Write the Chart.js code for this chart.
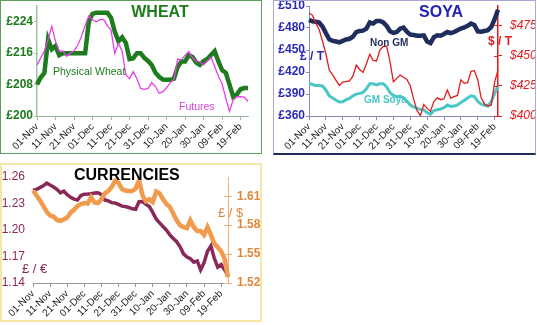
<!DOCTYPE html>
<html>
<head>
<meta charset="utf-8">
<script src="https://cdn.jsdelivr.net/npm/chart.js@4.4.1/dist/chart.umd.min.js"></script>
<style>
    body { margin: 0; background: #fff; width: 537px; height: 325px; overflow: hidden; position: relative; }
    .box { position: absolute; box-sizing: border-box; }
    #wheatBox { left: 0; top: 0; width: 262px; height: 154px; border: 1px solid #5c9c5c; }
    #soyaBox { left: 273px; top: 0; width: 263px; height: 155px; border: 1px solid #a8a8d8; border-bottom: 2px solid #1f2d5c; }
    #curBox { left: 0; top: 163px; width: 262px; height: 159px; border: 2px solid #f6e6a8; }
    canvas { position: absolute; left: 0; top: 0; }
</style>
</head>
<body>
<div class="box" id="wheatBox"><canvas id="wheat" width="260" height="152"></canvas></div>
<div class="box" id="soyaBox"><canvas id="soya" width="261" height="152"></canvas></div>
<div class="box" id="curBox"><canvas id="cur" width="258" height="155"></canvas></div>
<script>
// dates, every 2nd day from 01-Nov
const months = ["Jan", "Feb", "Mar", "Apr", "May", "Jun", "Jul", "Aug", "Sep", "Oct", "Nov", "Dec"];
const dates = [];
for (let d = 0; d <= 114; d += 2) {
    const dt = new Date(2010, 10, 1 + d);
    dates.push(String(dt.getDate()).padStart(2, "0") + "-" + months[dt.getMonth()]);
}

// WHEAT  £/t
const physicalWheat = [208, 209.8, 211, 219.5, 217, 217.8, 215.5, 216, 216, 216,
    216, 216, 216, 216, 224, 226, 226.3, 226.3, 226.3, 226.3,
    225, 221.5, 219, 220, 218.6, 214.5, 214.7, 216, 216, 214.8,
    214, 213, 211, 210, 209.3, 209.2, 209.2, 209.5, 212.5, 213.9,
    213.9, 215.5, 215, 213.6, 213, 214, 214.5, 215.5, 216.5, 213.9,
    211.7, 211, 208, 204.9, 205.5, 206.8, 207.1, 207.1];
const wheatFutures = [213, 214.8, 216.5, 219.5, 222.8, 219, 216.5, 216.5, 215.2, 216,
    216.6, 218, 220.2, 223, 225.5, 224.5, 224, 224.5, 224.6, 223,
    221.8, 216, 218.5, 216.5, 210.5, 209.5, 211.3, 209.5, 207, 206.8,
    207, 208.5, 207.5, 205.8, 206.2, 207.2, 208.5, 209.3, 214.5, 214.3,
    215.5, 216.4, 214.8, 214, 213.8, 213, 214, 215, 212.6, 210.1,
    208.2, 204.5, 201.2, 204.1, 204.9, 204.9, 204.8, 203.7];
const wheatTicks = [200, 208, 216, 224];

// SOYA  £/t (left) and $/t (right)
const nonGM = [491, 489, 488.6, 487.5, 482, 473, 464.5, 462.5, 461.5, 460.5,
    462.5, 464.3, 465.3, 468, 474.5, 476, 476.4, 479, 487.5, 486,
    489.5, 489.5, 487.5, 483, 475.5, 473.3, 474.5, 479, 480.5, 475,
    471, 470.5, 469.5, 469.5, 470, 461.5, 459.5, 467.5, 470, 469.5,
    471.8, 474.5, 473, 474.5, 477, 479.2, 480.8, 483, 486, 484.2,
    475.5, 475, 476, 477, 481.5, 492, 505];
const gmSoya = [404.5, 403, 401.5, 401.5, 401, 395.5, 387.5, 384.5, 381.5, 379,
    379.5, 382.2, 384, 387.5, 389.8, 390.8, 392.3, 397, 404, 404,
    402.3, 404, 404, 399.5, 392, 388, 386.4, 387, 385, 380.5,
    375, 372.5, 370.3, 369, 368.4, 364.5, 362.5, 367.5, 368.6, 369.6,
    371.4, 375, 373, 373.5, 375, 378.5, 381.3, 384.5, 387.5, 386.5,
    380, 376, 374.5, 373.6, 379.4, 390.8, 400.9];
const soyaDollar = [485, 483.3, 477, 471.5, 462, 451.5, 438, 434, 429.5, 425.3,
    428, 428.5, 429, 433, 442, 438.5, 436, 443, 451, 446,
    445.5, 454.5, 457.5, 457.8, 445, 428.3, 431.1, 433.8, 432, 430.2,
    425, 414, 404.5, 400.3, 409.5, 406.3, 404, 412, 415, 413.5,
    414.3, 421.5, 414.8, 416, 417, 430, 427, 427.5, 437, 437.5,
    430, 415, 410, 408.3, 409, 428, 438];
const soyaPoundTicks = [360, 390, 420, 450, 480, 510];
const soyaDollarTicks = [400, 425, 450, 475];

// CURRENCIES
const gbpEur = [1.245, 1.246, 1.248, 1.250, 1.253, 1.251, 1.2487, 1.246, 1.242, 1.244,
    1.240, 1.237, 1.235, 1.234, 1.239, 1.2405, 1.2407, 1.241, 1.2418, 1.2422,
    1.240, 1.234, 1.233, 1.231, 1.2305, 1.229, 1.227, 1.2266, 1.2255, 1.224,
    1.2235, 1.232, 1.2323, 1.229, 1.2265, 1.220, 1.2125, 1.208, 1.204, 1.200,
    1.1945, 1.1905, 1.1867, 1.181, 1.173, 1.1695, 1.1675, 1.1635, 1.165, 1.155,
    1.163, 1.176, 1.182, 1.168, 1.158, 1.161, 1.155, 1.148];
const gbpUsd = [1.616, 1.611, 1.606, 1.600, 1.594, 1.590, 1.589, 1.5855, 1.5845, 1.586,
    1.588, 1.593, 1.596, 1.600, 1.602, 1.603, 1.6025, 1.609, 1.6035, 1.603,
    1.607, 1.613, 1.6155, 1.6196, 1.626, 1.624, 1.6175, 1.616, 1.6155, 1.6155,
    1.618, 1.6265, 1.611, 1.605, 1.607, 1.604, 1.615, 1.613, 1.607, 1.602,
    1.599, 1.592, 1.585, 1.580, 1.578, 1.577, 1.585, 1.578, 1.574, 1.574,
    1.570, 1.578, 1.570, 1.561, 1.557, 1.553, 1.545, 1.526];
const eurTicks = [1.14, 1.17, 1.20, 1.23, 1.26];
const usdTicks = [1.52, 1.55, 1.58, 1.61];

Chart.defaults.font.family = "'Liberation Sans', Arial, sans-serif";
Chart.defaults.animation = false;

// pin axis sizes so the plot areas land where they are in the picture
function fixSize(size) {
    return function (scale) {
        if (scale.isHorizontal()) scale.height = size;
        else scale.width = size;
        scale.paddingTop = 0;
        scale.paddingBottom = 0;
        scale.paddingLeft = 0;
        scale.paddingRight = 0;
    };
}

function useTicks(list) {
    return function (scale) {
        scale.ticks = list.map(v => ({value: v}));
    };
}

function notes(items) {
    return {
        id: "notes",
        afterDraw(chart) {
            const c = chart.ctx;
            c.save();
            c.textBaseline = "middle";
            items.forEach(n => {
                c.font = n.font;
                c.fillStyle = n.color;
                c.textAlign = n.align || "left";
                c.fillText(n.text, n.x, n.y);
            });
            c.restore();
        }
    };
}

// short marks on the inner side of the right axes (the picture has crossing ticks)
function innerTicks(axisId, color) {
    return {
        id: "innerTicks",
        afterDraw(chart) {
            const s = chart.scales[axisId];
            const c = chart.ctx;
            c.save();
            c.strokeStyle = color;
            c.lineWidth = 1;
            s.ticks.forEach(t => {
                const y = Math.round(s.getPixelForValue(t.value)) + 0.5;
                c.beginPath();
                c.moveTo(s.left - 4, y);
                c.lineTo(s.left, y);
                c.stroke();
            });
            c.restore();
        }
    };
}

function dateAxis(color, size) {
    return {
        ticks: {
            autoSkip: false, minRotation: 45, maxRotation: 45, padding: 1,
            color: "#222", font: {size: 10},
            callback: function (v, i) {
                return i % 5 === 0 ? this.getLabelForValue(v) : null;
            }
        },
        grid: {drawOnChartArea: false, tickLength: 4, color: color},
        border: {color: color, width: 1},
        afterFit: fixSize(size)
    };
}

// ---------------- WHEAT
new Chart(document.getElementById("wheat"), {
    type: "line",
    data: {
        labels: dates,
        datasets: [
            {
                label: "Futures",
                data: wheatFutures,
                borderColor: "#e83ee8",
                borderWidth: 1.3,
                pointRadius: 0,
                tension: 0
            },
            {
                label: "Physical Wheat",
                data: physicalWheat,
                borderColor: "#1e7b1e",
                borderWidth: 4.5,
                pointRadius: 0,
                tension: 0
            }
        ]
    },
    options: {
        responsive: false,
        layout: {padding: {left: 0, right: 13, top: 5, bottom: 0}},
        plugins: {legend: {display: false}, tooltip: {enabled: false}},
        scales: {
            x: dateAxis("#9cb89c", 37),
            y: {
                min: 200, max: 228,
                afterBuildTicks: useTicks(wheatTicks),
                ticks: {
                    color: "#1e7b1e", padding: 1,
                    font: {size: 12, weight: "bold"},
                    callback: v => "£" + v
                },
                grid: {drawOnChartArea: false, tickLength: 3, color: "#9cc79c"},
                border: {color: "#9cc79c", width: 1.5},
                afterFit: fixSize(36)
            }
        }
    },
    plugins: [notes([
        {text: "WHEAT", x: 159, y: 12, font: "bold 16px 'Liberation Sans', Arial", color: "#1e7b1e", align: "center"},
        {text: "Physical Wheat", x: 52, y: 71, font: "10.5px 'Liberation Sans', Arial", color: "#1e7b1e"},
        {text: "Futures", x: 178, y: 106, font: "10.5px 'Liberation Sans', Arial", color: "#e040e0"}
    ])]
});

// ---------------- SOYA
new Chart(document.getElementById("soya"), {
    type: "line",
    data: {
        labels: dates.slice(0, nonGM.length),
        datasets: [
            {
                label: "$ / T",
                data: soyaDollar,
                yAxisID: "y1",
                borderColor: "#e01c1c",
                borderWidth: 1.3,
                pointRadius: 0,
                tension: 0
            },
            {
                label: "Non GM",
                data: nonGM,
                borderColor: "#1f2d5c",
                borderWidth: 4.5,
                pointRadius: 0,
                tension: 0
            },
            {
                label: "GM Soya",
                data: gmSoya,
                borderColor: "#4ac6c6",
                borderWidth: 3,
                pointRadius: 0,
                tension: 0
            }
        ]
    },
    options: {
        responsive: false,
        layout: {padding: {left: 0, right: 0, top: 5, bottom: 0}},
        plugins: {legend: {display: false}, tooltip: {enabled: false}},
        scales: {
            x: dateAxis("#8888bb", 37),
            y: {
                position: "left",
                min: 360, max: 510,
                afterBuildTicks: useTicks(soyaPoundTicks),
                ticks: {
                    color: "#2a2ab8", padding: 1,
                    font: {size: 12, weight: "bold"},
                    callback: v => "£" + v
                },
                grid: {drawOnChartArea: false, tickLength: 3, color: "#8888bb"},
                border: {color: "#8888bb", width: 1},
                afterFit: fixSize(35)
            },
            y1: {
                position: "right",
                min: 400, max: 491,
                afterBuildTicks: useTicks(soyaDollarTicks),
                ticks: {
                    color: "#e01c1c", padding: 8,
                    font: {size: 12, style: "italic"},
                    callback: v => "$" + v
                },
                grid: {drawOnChartArea: false, tickLength: 4, color: "#e01c1c"},
                border: {color: "#e01c1c", width: 1.5},
                afterFit: fixSize(37)
            }
        }
    },
    plugins: [innerTicks("y1", "#e01c1c"), notes([
        {text: "SOYA", x: 167, y: 12, font: "bold 16px 'Liberation Sans', Arial", color: "#2323b5", align: "center"},
        {text: "Non GM", x: 96, y: 42, font: "bold 10px 'Liberation Sans', Arial", color: "#1f2d5c"},
        {text: "GM Soya", x: 90, y: 99, font: "bold 10px 'Liberation Sans', Arial", color: "#4ac6c6"},
        {text: "£ / T", x: 26, y: 56, font: "bold 12px 'Liberation Sans', Arial", color: "#2a2ab8"},
        {text: "$ / T", x: 214, y: 41, font: "bold 12px 'Liberation Sans', Arial", color: "#e01c1c"}
    ])]
});

// ---------------- CURRENCIES
new Chart(document.getElementById("cur"), {
    type: "line",
    data: {
        labels: dates,
        datasets: [
            {
                label: "£ / $",
                data: gbpUsd,
                yAxisID: "y1",
                borderColor: "#f39b4c",
                borderWidth: 4.5,
                pointRadius: 0,
                tension: 0
            },
            {
                label: "£ / €",
                data: gbpEur,
                borderColor: "#8a2858",
                borderWidth: 3.5,
                pointRadius: 0,
                tension: 0
            }
        ]
    },
    options: {
        responsive: false,
        layout: {padding: {left: 0, right: 0, top: 12, bottom: 0}},
        plugins: {legend: {display: false}, tooltip: {enabled: false}},
        scales: {
            x: dateAxis("#999999", 37),
            y: {
                position: "left",
                min: 1.14, max: 1.26,
                afterBuildTicks: useTicks(eurTicks),
                ticks: {
                    color: "#8a2858", padding: 8,
                    font: {size: 12},
                    callback: v => v.toFixed(2)
                },
                grid: {display: false, drawTicks: false, tickLength: 0},
                border: {display: false},
                afterFit: fixSize(31)
            },
            y1: {
                position: "right",
                min: 1.52, max: 1.63,
                afterBuildTicks: useTicks(usdTicks),
                ticks: {
                    color: "#e0883a", padding: 5,
                    font: {size: 12, weight: "bold"},
                    callback: v => v.toFixed(2)
                },
                grid: {drawOnChartArea: false, tickLength: 4, color: "#f0b27a"},
                border: {color: "#f0b27a", width: 1},
                afterFit: fixSize(32)
            }
        }
    },
    plugins: [innerTicks("y1", "#f0b27a"), notes([
        {text: "CURRENCIES", x: 72, y: 11, font: "bold 16px 'Liberation Sans', Arial", color: "#000"},
        {text: "£ / $", x: 216, y: 48, font: "13px 'Liberation Sans', Arial", color: "#e0883a"},
        {text: "£ / €", x: 20, y: 104, font: "13px 'Liberation Sans', Arial", color: "#8a2858"}
    ])]
});
</script>
</body>
</html>
